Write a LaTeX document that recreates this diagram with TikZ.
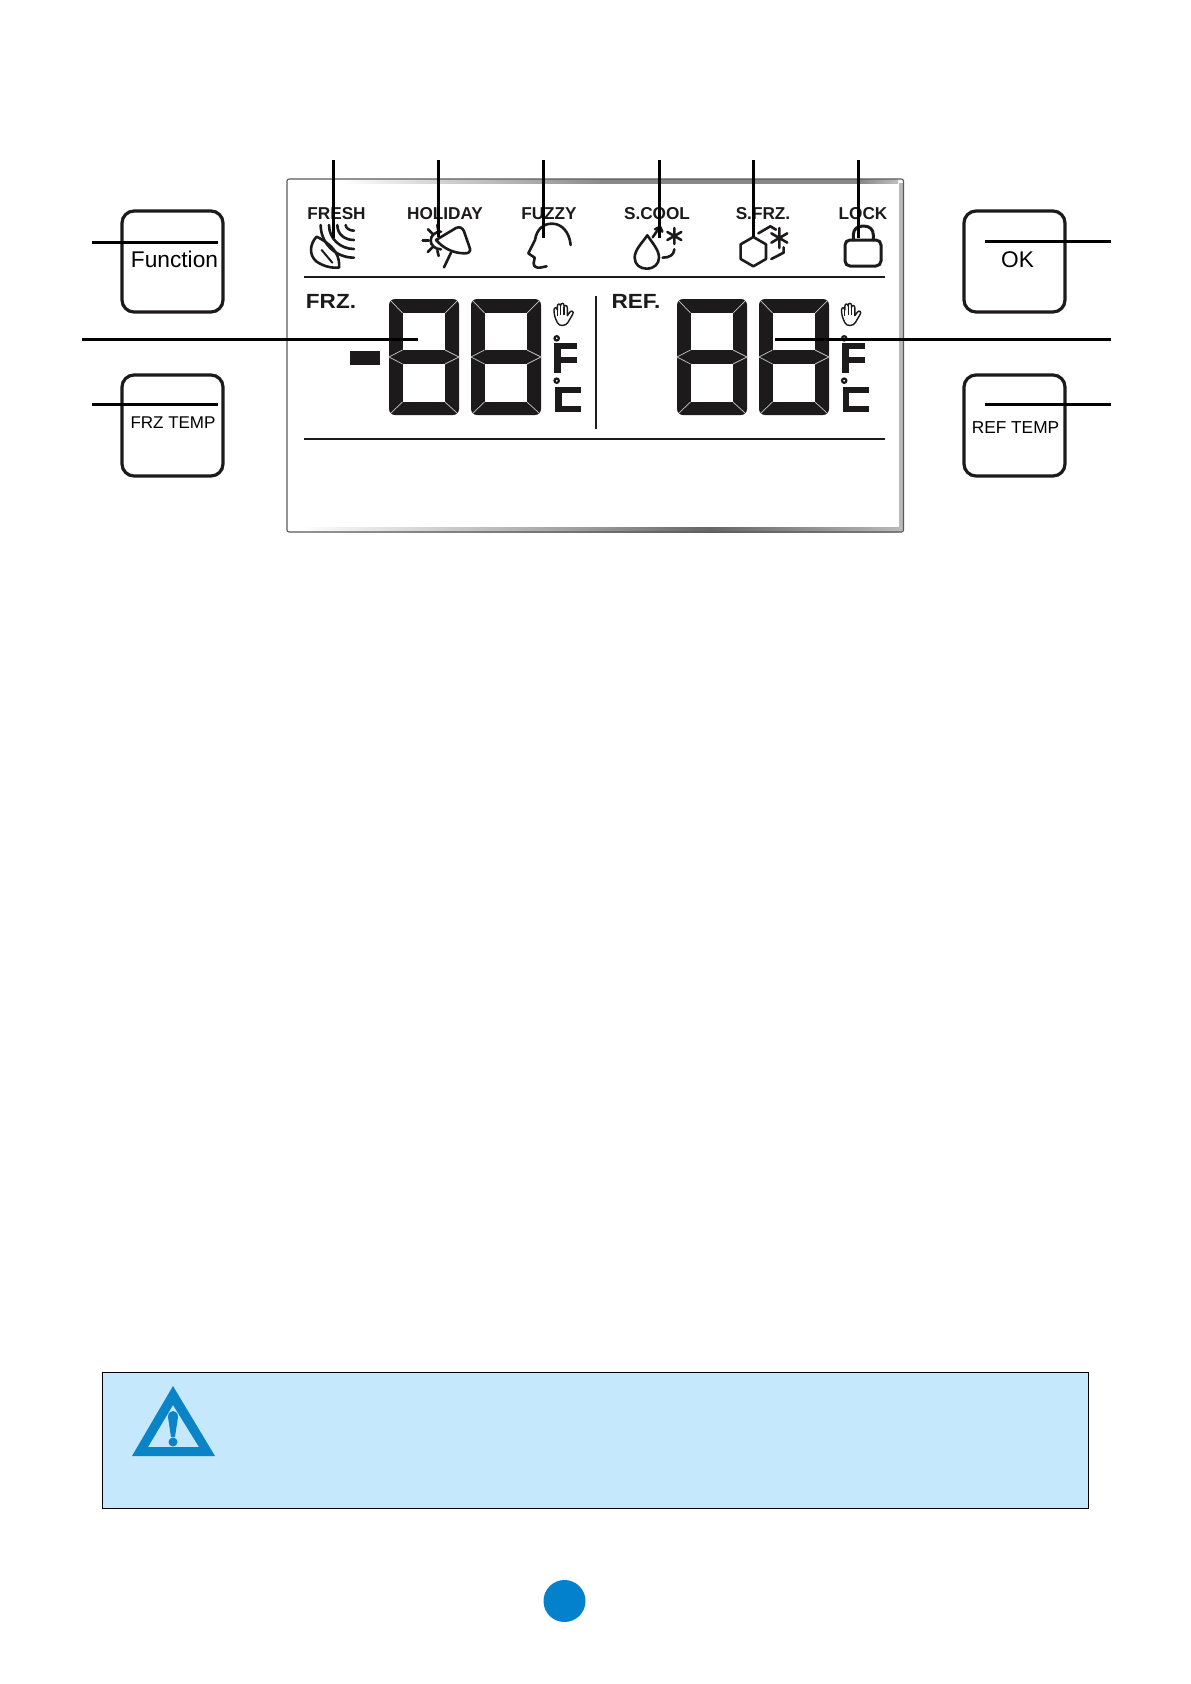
\documentclass[tikz,border=0pt]{standalone}
\usepackage{fontspec}
\setmainfont{Liberation Sans}
\newcommand{\fsz}[1]{\fontsize{#1}{#1}\selectfont}
\definecolor{lcdblack}{HTML}{1C1A1B}
\definecolor{segline}{HTML}{C8C8C8}
\definecolor{warnfill}{HTML}{C5E8FC}
\definecolor{warnblue}{HTML}{0A84C6}
\definecolor{pageblue}{HTML}{0481CC}
\definecolor{panelline}{HTML}{5A5A5A}
\tikzset{
  leader/.style={line width=3pt,black},
  btn/.style={draw=lcdblack,line width=3.2pt,rounded corners=12pt,fill=white},
  icon/.style={line width=2.6pt,lcdblack,line join=round,line cap=round},
  sepline/.style={line width=2pt,lcdblack},
  toplabel/.style={inner sep=0pt,font=\bfseries\fsz{17.2},text=lcdblack},
  zonelabel/.style={inner sep=0pt,font=\bfseries\fsz{20.5},text=lcdblack,xscale=1.1},
  btnbig/.style={inner sep=0pt,font=\fsz{22.7},text=black},
  btnsmall/.style={inner sep=0pt,font=\fsz{17.3},text=black},
}
\begin{document}
\begin{tikzpicture}[x=1pt,y=-1pt]
\useasboundingbox (0,0) rectangle (1191,1684);
\fill[white] (0,0) rectangle (1191,1684);

% ---------- display panel
\fill[white] (287,179) rectangle (903,532);
\shade[left color=white,right color=black!45,draw=none] (340,179) rectangle (600,183.5);
\fill[black!47] (600,179) rectangle (860,183.5);
\shade[left color=black!47,right color=black!25,draw=none] (860,179) rectangle (898,183.5);
\shade[left color=white,right color=black!38,draw=none] (300,527) rectangle (580,532);
\shade[left color=black!38,right color=black!60,draw=none] (580,527) rectangle (710,532);
\shade[left color=black!60,right color=black!28,draw=none] (710,527) rectangle (899,532);
\fill[black!27] (898.5,183) rectangle (903,532);
\draw[panelline,line width=1.1pt,rounded corners=2pt] (287,179) rectangle (903.5,532);

% ---------- separators
\coordinate (sepAa) at (304,277); \coordinate (sepAb) at (885,277);
\coordinate (sepBa) at (304,439); \coordinate (sepBb) at (885,439);
\coordinate (sepCa) at (596,296); \coordinate (sepCb) at (596,429);
\draw[sepline] (sepAa) -- (sepAb);
\draw[sepline] (sepBa) -- (sepBb);
\draw[lcdblack,line width=1.4pt] (sepCa) -- (sepCb);

% ---------- seven-segment digits
\foreach \xo in {389,471,677,759}{
  \begin{scope}[shift={(\xo,0)}]
    \fill[lcdblack,rounded corners=6pt] (0,299) rectangle (70,415);
    \fill[white] (13.5,313) rectangle (56,350);
    \fill[white] (13.5,364) rectangle (56,402);
    \draw[segline,line width=.7pt] (2,301) -- (13.5,313) (56,313) -- (68,301);
    \draw[segline,line width=.7pt] (2,413) -- (13.5,402) (56,402) -- (68,413);
    \draw[segline,line width=.7pt] (13.5,350) -- (0,357) -- (13.5,364) (56,350) -- (70,357) -- (56,364);
  \end{scope}
}
% minus sign
\fill[lcdblack] (350,351) rectangle (380,365);

% ---------- hand, degree marks, F and C
\foreach \xo in {0,287.5}{
  \begin{scope}[shift={(280+\xo,150)},scale=1/3]
    \draw[lcdblack,line width=1.4pt,line join=round]
      (832,518) .. controls (826,505) and (822,495) .. (822,480)
      .. controls (822,471) and (831,471) .. (832,480)
      -- (832,469) .. controls (832,460) and (841,460) .. (842,468)
      -- (842,466) .. controls (843,458) and (852,458) .. (852,466)
      -- (852,472) .. controls (853,464) and (862,465) .. (862,473)
      -- (862,497) -- (870,486) .. controls (875,480) and (883,485) .. (878,493)
      -- (864,517) .. controls (858,529) and (837,530) .. (832,518);
    \draw[lcdblack,line width=1.1pt] (832,480) -- (832,497) (842,468) -- (842,494) (852,470) -- (852,494);
    % degree circles
    \draw[lcdblack,line width=2.2pt,fill=white] (830,565) circle (6.5);
    \draw[lcdblack,line width=2.2pt,fill=white] (830,692) circle (6.5);
    % F
    \fill[lcdblack] (823,580) rectangle (843,668);
    \fill[lcdblack] (823,580) rectangle (892,598);
    \fill[lcdblack] (823,620) rectangle (892,638);
    % C
    \fill[lcdblack] (825,710) rectangle (845,787);
    \fill[lcdblack] (825,710) rectangle (903,728);
    \fill[lcdblack] (825,769) rectangle (903,787);
  \end{scope}
}

% ---------- top icons, left group (3x zoom frame)
\begin{scope}[shift={(280,190)},scale=1/3]
  % leaf
  \draw[icon] (110,140) .. controls (90,160) and (85,195) .. (110,215)
     .. controls (135,232) and (160,234) .. (177,233)
     .. controls (180,205) and (170,170) .. (110,140) -- cycle;
  \draw[icon,line width=2pt] (125,180) -- (157,218);
  % waves
  \draw[icon] (122,105) .. controls (122,160) and (167,203) .. (222,203);
  \draw[icon] (147,105) .. controls (147,146) and (181,177) .. (222,177);
  \draw[icon] (172,105) .. controls (172,133) and (194,150) .. (222,150);
  \draw[icon] (197,105) .. controls (197,114) and (208,122) .. (222,122);
  % sun and parasol
  \draw[icon] (483,125) .. controls (465,125) and (452,137) .. (452,152)
     .. controls (452,165) and (465,178) .. (483,178);
  \draw[icon] (428,152) -- (446,152);
  \draw[icon] (444,118) -- (458,132);
  \draw[icon] (472,105) -- (474,118);
  \draw[icon] (443,186) -- (457,172);
  \draw[icon] (476,198) -- (472,182);
  \draw[icon] (468,150) -- (528,114) .. controls (540,108) and (548,115) .. (552,124)
     -- (570,176) .. controls (572,186) and (565,190) .. (555,190)
     .. controls (520,190) and (490,175) .. (468,150) -- cycle;
  \draw[icon] (513,188) -- (492,232);
  % head
  \draw[icon] (872,165) .. controls (868,125) and (845,102) .. (818,101)
     .. controls (790,100) and (770,118) .. (765,150)
     -- (745,190) -- (764,203) -- (761,220)
     .. controls (761,230) and (770,234) .. (780,233) -- (800,229);
\end{scope}

% ---------- top icons, right group (3x zoom frame)
\begin{scope}[shift={(600,190)},scale=1/3]
  % drop, arrow, arc and star
  \draw[icon] (142,136) .. controls (125,160) and (104,180) .. (104,203)
     .. controls (104,224) and (120,236) .. (140,236)
     .. controls (162,236) and (177,222) .. (177,203)
     .. controls (177,180) and (158,160) .. (142,136) -- cycle;
  \draw[icon] (158,142) -- (180,110);
  \draw[icon] (165,118) -- (180,110) -- (187,125);
  \draw[icon] (188,203) .. controls (208,203) and (222,195) .. (223,178);
  \draw[icon] (223,114) -- (223,162) (202,126) -- (244,150) (202,150) -- (244,126);
  % hexagons and star
  \draw[icon] (460,141) -- (498,163) -- (498,207) -- (460,229) -- (422,207) -- (422,163) -- cycle;
  \draw[icon] (475,130) -- (511,109) -- (528,119);
  \draw[icon] (514,207) -- (551,188) -- (551,172);
  \draw[icon] (538,114) -- (538,174) (514,130) -- (562,158) (514,158) -- (562,130);
  % padlock
  \draw[icon,line width=3pt,rounded corners=5pt] (735,150) rectangle (843,228);
  \draw[icon,line width=3pt] (760,150) -- (760,135) .. controls (760,117) and (772,108) .. (790,108)
     .. controls (808,108) and (820,117) .. (820,135) -- (820,150);
\end{scope}

% ---------- labels
\node[toplabel] (tFresh) at (336.5,214) {FRESH};
\node[toplabel] (tHoliday) at (445,214) {HOLIDAY};
\node[toplabel] (tFuzzy) at (549,214) {FUZZY};
\node[toplabel] (tScool) at (657,214) {S.COOL};
\node[toplabel] (tSfrz) at (763,214) {S.FRZ.};
\node[toplabel] (tLock) at (863,214) {LOCK};
\node[zonelabel] (tFrz) at (331,301) {FRZ.};
\node[zonelabel] (tRef) at (636,301) {REF.};

% ---------- buttons
\draw[btn] (122,211) rectangle (223,312);
\draw[btn] (122,375) rectangle (223,476);
\draw[btn] (964,211) rectangle (1065,312);
\draw[btn] (964,375) rectangle (1065,476);
\node[btnbig] (tFunction) at (174.5,259) {Function};
\node[btnsmall,font=\fsz{17}] (tFrzTemp) at (173,423) {FRZ TEMP};
\node[btnbig] (tOk) at (1017.5,260) {OK};
\node[btnsmall] (tRefTemp) at (1015.5,428) {REF TEMP};

% ---------- leader lines
\foreach \n/\xa/\ya in {a/333/238,b/438/237,c/543/238,d/659/238,e/753/237,f/858/238}{
  \coordinate (up\n) at (\xa,160);
  \coordinate (dn\n) at (\xa,\ya);
  \draw[leader] (up\n) -- (dn\n);
}
\coordinate (hAa) at (92,242);  \coordinate (hAb) at (218,242);
\coordinate (hBa) at (82,339);  \coordinate (hBb) at (418,339);
\coordinate (hCa) at (92,404);  \coordinate (hCb) at (218,404);
\coordinate (hDa) at (985,241); \coordinate (hDb) at (1111,241);
\coordinate (hEa) at (775,339); \coordinate (hEb) at (1111,339);
\coordinate (hFa) at (985,404); \coordinate (hFb) at (1111,404);
\foreach \n in {A,B,C,D,E,F}{ \draw[leader] (h\n a) -- (h\n b); }

% ---------- warning box
\draw[black,line width=1pt,fill=warnfill] (102.5,1372.5) rectangle (1088.5,1508);
\fill[warnblue,even odd rule] (173,1386) -- (215,1456) -- (132,1456) -- cycle
   (173,1405) -- (148,1447) -- (199,1447) -- cycle;
\fill[warnblue] (168,1417) .. controls (168,1409) and (178,1409) .. (178,1417)
   -- (175,1437) -- (171,1437) -- cycle;
\fill[warnblue] (173,1442) circle (4.5);

% ---------- page marker
\fill[pageblue] (564.5,1601) circle (21);
\end{tikzpicture}
\end{document}
